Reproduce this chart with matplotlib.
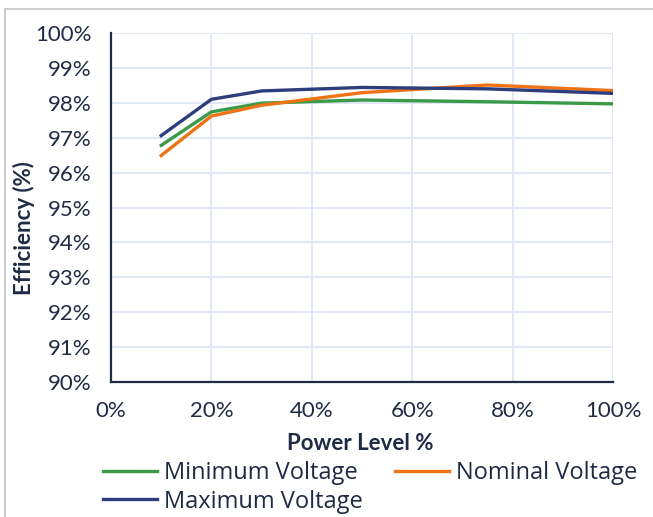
import matplotlib.pyplot as plt
from matplotlib.patches import Rectangle
from matplotlib.ticker import PercentFormatter

# power level (%) and efficiency (%) per input voltage
power = [10, 20, 30, 50, 75, 100]
eff_min = [96.78, 97.74, 97.99, 98.08, 98.03, 97.97]
eff_nom = [96.49, 97.62, 97.93, 98.29, 98.51, 98.35]
eff_max = [97.06, 98.10, 98.34, 98.44, 98.40, 98.27]

ink = '#1f2a44'
plt.rcParams['font.family'] = ['Lato', 'DejaVu Sans']

W, H = 653, 517
fig = plt.figure(figsize=(W / 100, H / 100), dpi=100)
ax = fig.add_axes([111 / W, 1 - 382 / H, (613 - 111) / W, (382 - 33) / H])

# outer chart border
fig.patches.append(Rectangle((4.5 / W, -0.05), 1.1, 1.05 - 8.5 / H, transform=fig.transFigure,
                             fill=False, edgecolor='#c8c8c8', linewidth=1.3))

l_min, = ax.plot(power, eff_min, color='#3a9a48', lw=2.4, label='Minimum Voltage')
l_nom, = ax.plot(power, eff_nom, color='#ee7314', lw=2.4, label='Nominal Voltage')
l_max, = ax.plot(power, eff_max, color='#2e3d7c', lw=2.4, label='Maximum Voltage')

ax.set_xlim(0, 100)
ax.set_ylim(90, 100)
ax.set_xticks(range(0, 101, 20))
ax.set_yticks(range(90, 101))
ax.xaxis.set_major_formatter(PercentFormatter(decimals=0))
ax.yaxis.set_major_formatter(PercentFormatter(decimals=0))
ax.tick_params(length=0, labelsize=16, labelcolor=ink)
ax.tick_params(axis='y', pad=14)
ax.tick_params(axis='x', pad=14)

ax.grid(True, color='#dde6f4', lw=1.3)
ax.set_axisbelow(True)
for s in ['top', 'right']:
    ax.spines[s].set_visible(False)
for s in ['left', 'bottom']:
    ax.spines[s].set_color(ink)
    ax.spines[s].set_linewidth(1.6)

ax.set_xlabel('Power Level %', fontsize=16, fontweight='bold', color=ink)
ax.set_ylabel('Efficiency (%)', fontsize=16, fontweight='bold', color=ink)
ax.xaxis.set_label_coords(360 / W, 1 - 443 / H, transform=fig.transFigure)
ax.yaxis.set_label_coords(24 / W, 1 - 228 / H, transform=fig.transFigure)
ax.xaxis.label.set_va('center')
ax.yaxis.label.set_va('center')

# column-wise fill: Min / Max in first column, Nominal in second
leg = fig.legend([l_min, l_max, l_nom], [l.get_label() for l in (l_min, l_max, l_nom)],
                 loc='upper left', bbox_to_anchor=(103 / W, 1 - 461 / H), ncol=2,
                 frameon=False, prop={'family': 'Open Sans', 'size': 17},
                 handlelength=2.29, handletextpad=0.3, columnspacing=1.35,
                 labelspacing=0.2, borderpad=0, borderaxespad=0)
for t in leg.get_texts():
    t.set_color(ink)

fig.savefig('out.png', dpi=100)
